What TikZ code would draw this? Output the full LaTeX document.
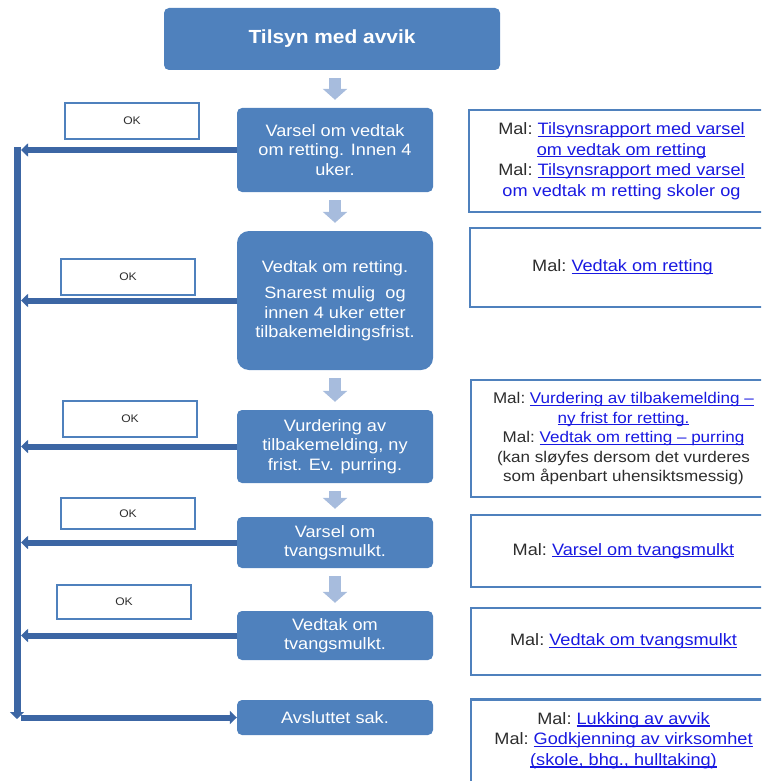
\documentclass[tikz,border=0pt]{standalone}
\usepackage{fontspec}
\setmainfont{Liberation Sans}[FakeStretch=1.1]
\usetikzlibrary{arrows.meta}

\definecolor{boxblue}{RGB}{79,129,189}
\definecolor{railblue}{RGB}{60,102,164}
\definecolor{gapblue}{RGB}{167,188,221}
\definecolor{linkblue}{RGB}{25,25,225}
\definecolor{maltext}{RGB}{45,45,45}

\newcommand\lnk[1]{\textcolor{linkblue}{\setbox0\hbox{#1}\rlap{\rule[-2.2pt]{\wd0}{1.2pt}}\box0}}
\newcommand\mal{Mal:~}

\begin{document}
\begin{tikzpicture}[x=1pt,y=-1pt,
    stepbox/.style={fill=boxblue, rounded corners=5pt, text=white, align=center,
      minimum width=196pt, inner sep=1pt, font=\fontsize{16.5}{19.5}\selectfont},
    okbox/.style={draw=boxblue, line width=2.5pt, minimum width=134pt, inner sep=0pt,
      font=\fontsize{11}{13}\selectfont, text=maltext},
    malbox/.style={draw=boxblue, line width=2.5pt, minimum width=305pt, align=center,
      inner sep=0pt, text=maltext, font=\fontsize{16.5}{20.5}\selectfont},
    gap/.style={draw=gapblue, line width=12pt, -{Triangle[width=24pt,length=11pt]},
      shorten <=8pt, shorten >=8pt},
    back/.style={draw=railblue, line width=6pt, -{Triangle[width=13pt,length=7pt]}}]
  \useasboundingbox (0,0) rectangle (761,781);
  \clip (0,0) rectangle (761,781);

  % steps
  \node[stepbox, minimum width=336pt, minimum height=62pt,
    font=\fontsize{19}{22}\selectfont\bfseries] (title) at (332,39) {Tilsyn med avvik};
  \node[stepbox, minimum height=84pt] (varsel) at (335,150)
    {Varsel om vedtak\\om retting. Innen 4\\uker.};
  \node[stepbox, minimum height=139pt, rounded corners=12pt] (vedtak) at (335,300.5)
    {Vedtak om retting.\\[7pt]Snarest mulig\ \ og\\innen 4 uker etter\\tilbakemeldingsfrist.};
  \node[stepbox, minimum height=73pt] (vurdering) at (335,446.5)
    {Vurdering av\\tilbakemelding, ny\\frist. Ev. purring.};
  \node[stepbox, minimum height=51pt] (tvarsel) at (335,542.5) {Varsel om\\tvangsmulkt.};
  \node[stepbox, minimum height=49pt] (tvedtak) at (335,635.5) {Vedtak om\\tvangsmulkt.};
  \node[stepbox, minimum height=35pt] (avsluttet) at (335,717.5) {Avsluttet sak.};

  \draw[gap] (title.south -| varsel.north) -- (varsel.north);
  \draw[gap] (varsel) -- (vedtak);
  \draw[gap] (vedtak) -- (vurdering);
  \draw[gap] (vurdering) -- (tvarsel);
  \draw[gap] (tvarsel) -- (tvedtak);

  % OK path
  \node[okbox, minimum height=36pt] (ok1) at (132,121) {OK};
  \node[okbox, minimum height=36pt] (ok2) at (128,277) {OK};
  \node[okbox, minimum height=36pt] (ok3) at (130,419) {OK};
  \node[okbox, minimum height=31pt] (ok4) at (128,513.5) {OK};
  \node[okbox, minimum height=34pt] (ok5) at (124,602) {OK};

  \coordinate (railtop) at (17,147);
  \coordinate (railbot) at (17,719);
  \draw[back, line width=7pt, -{Triangle[width=14pt,length=7pt]}] (railtop) -- (railbot);
  \foreach \s in {varsel,vedtak,vurdering,tvarsel,tvedtak}
    \draw[back, shorten >=4pt] (\s.west) -- (\s.west -| railtop);
  \draw[back, shorten <=4pt] (avsluttet.west -| railtop) -- (avsluttet.west);

  % templates
  \node[malbox, minimum height=102pt] (mal1) at (621.5,161)
    {\mal\lnk{Tilsynsrapport med varsel}\\\lnk{om vedtak om retting}\\
     \mal\lnk{Tilsynsrapport med varsel}\\\textcolor{linkblue}{om vedtak m retting skoler og}};
  \node[malbox, minimum height=79pt] (mal2) at (622.5,267.5) {\mal\lnk{Vedtak om retting}};
  \node[malbox, minimum height=117pt, font=\fontsize{15.5}{19.5}\selectfont] (mal3) at (623.5,438.5)
    {\mal\lnk{Vurdering av tilbakemelding –}\\\lnk{ny frist for retting.}\\
     \mal\lnk{Vedtak om retting – purring}\\(kan sløyfes dersom det vurderes\\
     som åpenbart uhensiktsmessig)};
  \node[malbox, minimum height=72pt] (mal4) at (623.5,551) {\mal\lnk{Varsel om tvangsmulkt}};
  \node[malbox, minimum height=67pt] (mal5) at (623.5,641.5) {\mal\lnk{Vedtak om tvangsmulkt}};
  \node[malbox, minimum height=100pt, anchor=north] (mal6) at (623.5,698)
    {\mal\lnk{Lukking av avvik}\\\mal\lnk{Godkjenning av virksomhet}\\
     \lnk{(skole, bhg., hulltaking)}\\\mbox{}};
\end{tikzpicture}
\end{document}
